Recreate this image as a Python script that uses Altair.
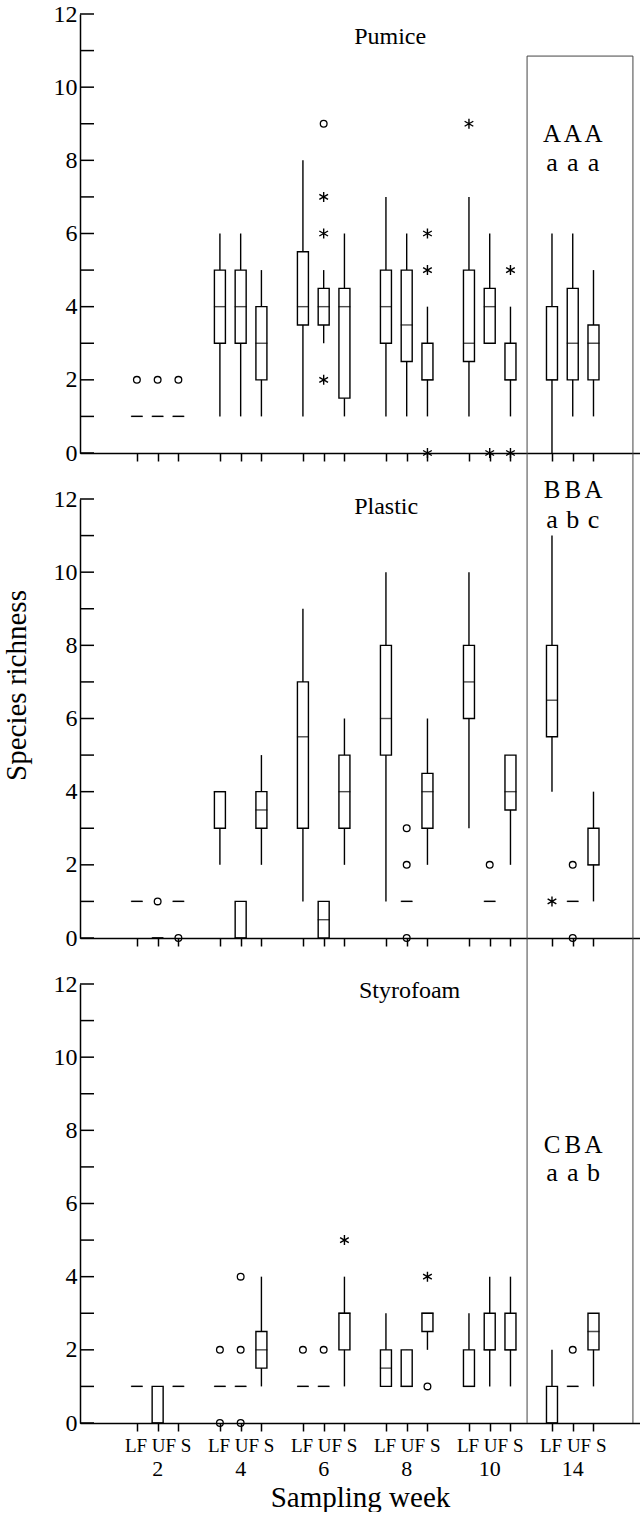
import altair as alt
import pandas as pd

# ---------------- data ----------------
weeks = [2, 4, 6, 8, 10, 14]
fractions = ["LF", "UF", "S"]
materials = ["Pumice", "Plastic", "Styrofoam"]

# [low whisker, Q1, median, Q3, high whisker]; order: LF, UF, S for each week
pumice_stats = [
    [1, 1, 1, 1, 1], [1, 1, 1, 1, 1], [1, 1, 1, 1, 1],
    [1, 3, 4, 5, 6], [1, 3, 4, 5, 6], [1, 2, 3, 4, 5],
    [1, 3.5, 4, 5.5, 8], [3, 3.5, 4, 4.5, 5], [1, 1.5, 4, 4.5, 6],
    [1, 3, 4, 5, 7], [1, 2.5, 3.5, 5, 6], [1, 2, 2, 3, 4],
    [1, 2.5, 3, 5, 7], [3, 3, 4, 4.5, 6], [1, 2, 2, 3, 4],
    [0, 2, 2, 4, 6], [1, 2, 3, 4.5, 6], [1, 2, 3, 3.5, 5],
]
plastic_stats = [
    [1, 1, 1, 1, 1], [0, 0, 0, 0, 0], [1, 1, 1, 1, 1],
    [2, 3, 4, 4, 4], [0, 0, 0, 1, 1], [2, 3, 3.5, 4, 5],
    [1, 3, 5.5, 7, 9], [0, 0, 0.5, 1, 1], [2, 3, 4, 5, 6],
    [1, 5, 6, 8, 10], [1, 1, 1, 1, 1], [2, 3, 4, 4.5, 6],
    [3, 6, 7, 8, 10], [1, 1, 1, 1, 1], [2, 3.5, 4, 5, 5],
    [4, 5.5, 6.5, 8, 11], [1, 1, 1, 1, 1], [1, 2, 2, 3, 4],
]
styrofoam_stats = [
    [1, 1, 1, 1, 1], [0, 0, 0, 1, 1], [1, 1, 1, 1, 1],
    [1, 1, 1, 1, 1], [1, 1, 1, 1, 1], [1, 1.5, 2, 2.5, 4],
    [1, 1, 1, 1, 1], [1, 1, 1, 1, 1], [1, 2, 3, 3, 4],
    [1, 1, 1.5, 2, 3], [1, 1, 1, 2, 2], [2, 2.5, 3, 3, 3],
    [1, 1, 1, 2, 3], [1, 2, 2, 3, 4], [1, 2, 2, 3, 4],
    [0, 0, 0, 1, 2], [1, 1, 1, 1, 1], [1, 2, 2.5, 3, 3],
]

# outliers: (week, fraction, value)
pumice_circles = [(2, "LF", 2), (2, "UF", 2), (2, "S", 2), (6, "UF", 9)]
pumice_stars = [(6, "UF", 7), (6, "UF", 6), (6, "UF", 2), (8, "S", 6), (8, "S", 5),
                (8, "S", 0), (10, "LF", 9), (10, "UF", 0), (10, "S", 5), (10, "S", 0)]
plastic_circles = [(2, "UF", 1), (2, "S", 0), (8, "UF", 3), (8, "UF", 2), (8, "UF", 0),
                   (10, "UF", 2), (14, "UF", 2), (14, "UF", 0)]
plastic_stars = [(14, "LF", 1)]
styrofoam_circles = [(4, "LF", 2), (4, "LF", 0), (4, "UF", 4), (4, "UF", 2), (4, "UF", 0),
                     (6, "LF", 2), (6, "UF", 2), (8, "S", 1), (14, "UF", 2)]
styrofoam_stars = [(6, "S", 5), (8, "S", 4)]

letters_upper = [["A", "A", "A"], ["B", "B", "A"], ["C", "B", "A"]]
letters_lower = [["a", "a", "a"], ["a", "b", "c"], ["a", "a", "b"]]

y_ticks = list(range(0, 13))
y_labels = list(range(0, 13, 2))

# ---------------- layout ----------------
W, H, GAP = 560, 439, 46
X_MAX = 26.5
FONT = "Liberation Serif, Times New Roman, Times, serif"
upper_y = [8.51, 12.04, 7.38]
lower_y = [7.71, 11.22, 6.62]
title_xy = [(12.97, 11.19), (12.97, 11.6), (13.2, 11.63)]
RECT_L, RECT_R, RECT_TOP = 21.3, 26.4, 10.85
STAR = "M0,-1L0,1M-0.87,-0.5L0.87,0.5M-0.87,0.5L0.87,-0.5"


def pos(week, frac):
    return 2.5 + 4 * weeks.index(week) + fractions.index(frac)


xvals = [pos(w, f) for w in weeks for f in fractions]
all_stats = [pumice_stats, plastic_stats, styrofoam_stats]
all_circles = [pumice_circles, plastic_circles, styrofoam_circles]
all_stars = [pumice_stars, plastic_stars, styrofoam_stars]

xs = alt.Scale(domain=[0, X_MAX], nice=False, zero=False)
ys = alt.Scale(domain=[0, 12], nice=False)

label_expr = ("((datum.value - 2.5) % 4) == 1 ? '" + " ".join(fractions) + "' : ''")


def make_panel(mi):
    bottom = mi == 2
    stats = all_stats[mi]
    box_df = pd.DataFrame([
        {"pos": pos(w, f), "lo": s[0], "q1": s[1], "med": s[2], "q3": s[3], "hi": s[4]}
        for (w, f), s in zip([(w, f) for w in weeks for f in fractions], stats)
    ])
    circ_df = pd.DataFrame([{"pos": pos(w, f), "v": v} for w, f, v in all_circles[mi]])
    star_df = pd.DataFrame([{"pos": pos(w, f), "v": v} for w, f, v in all_stars[mi]])
    up_df = pd.DataFrame({"pos": [pos(14, f) for f in fractions], "t": letters_upper[mi],
                          "y": [upper_y[mi]] * 3})
    lo_df = pd.DataFrame({"pos": [pos(14, f) for f in fractions], "t": letters_lower[mi],
                          "y": [lower_y[mi]] * 3})
    tdf = pd.DataFrame({"x": [title_xy[mi][0]], "y": [title_xy[mi][1]], "t": [materials[mi]]})
    tick_df = pd.DataFrame({"v": y_ticks})
    rect_df = pd.DataFrame({"x": [RECT_L, RECT_R], "top": [RECT_TOP, RECT_TOP]})

    xkw = dict(values=xvals, grid=False, ticks=True, tickSize=8, domain=True)
    if bottom:
        xkw.update(labels=True, labelExpr=label_expr, labelFontSize=19, labelPadding=5,
                   labelOverlap=False, labelFlush=False, labelBound=False,
                   labelFont=FONT, titleFont=FONT,
                   title="Sampling week", titleFontSize=29, titleY=83,
                   titleBaseline="alphabetic", titleFontWeight="normal")
    else:
        xkw.update(labels=False, title=None)
    xax = alt.Axis(**xkw)

    ykw = dict(values=y_labels, ticks=False, grid=False, labelFontSize=24, labelPadding=3,
               domain=True, labelFont=FONT)
    if mi == 1:
        ykw.update(title="Species richness", titleFontSize=29, titleX=-55, titleY=186,
                   titleAngle=270, titleBaseline="alphabetic", titleAlign="center",
                   titleFontWeight="normal", titleFont=FONT)
    else:
        ykw.update(title=None)
    yax = alt.Axis(**ykw)

    X = lambda f: alt.X(f, scale=xs, axis=xax)
    Y = lambda f: alt.Y(f, scale=ys, axis=yax)

    layers = []
    # inward y ticks
    layers.append(alt.Chart(tick_df).mark_rule(color="black", strokeWidth=1.5).encode(
        y=Y("v:Q"), x=alt.value(0), x2=alt.value(14)))
    # highlight rectangle around week 14 (continuous across panels)
    if mi == 0:
        layers.append(alt.Chart(rect_df).mark_rule(color="#444", strokeWidth=1).encode(
            x=X("x:Q"), y=Y("top:Q"), y2=alt.value(H + GAP)))
        layers.append(alt.Chart(rect_df.iloc[:1]).mark_rule(color="#444", strokeWidth=1).encode(
            x=X("x:Q"), x2=alt.datum(RECT_R), y=Y("top:Q")))
    elif mi == 1:
        layers.append(alt.Chart(rect_df).mark_rule(color="#444", strokeWidth=1).encode(
            x=X("x:Q"), y=alt.value(0), y2=alt.value(H + GAP)))
    else:
        layers.append(alt.Chart(rect_df).mark_rule(color="#444", strokeWidth=1).encode(
            x=X("x:Q"), y=alt.value(0), y2=alt.value(H)))
    # whiskers
    layers.append(alt.Chart(box_df).mark_rule(color="black", strokeWidth=1.4).encode(
        x=X("pos:Q"), y=Y("lo:Q"), y2="hi:Q"))
    # boxes
    layers.append(alt.Chart(box_df).mark_bar(size=11, fill="white", stroke="black",
                                             strokeWidth=1.4).encode(
        x=X("pos:Q"), y=Y("q1:Q"), y2="q3:Q"))
    # medians
    layers.append(alt.Chart(box_df).mark_tick(orient="horizontal", size=12, thickness=1.4,
                                              color="black").encode(
        x=X("pos:Q"), y=Y("med:Q")))
    # outliers
    if len(circ_df):
        layers.append(alt.Chart(circ_df).mark_point(shape="circle", filled=False, size=45,
                                                    color="black", strokeWidth=1.3,
                                                    opacity=1).encode(
            x=X("pos:Q"), y=Y("v:Q")))
    if len(star_df):
        layers.append(alt.Chart(star_df).mark_point(shape=STAR, filled=False, size=100,
                                                    color="black", strokeWidth=1.4,
                                                    opacity=1).encode(
            x=X("pos:Q"), y=Y("v:Q")))
    # significance letters
    layers.append(alt.Chart(up_df).mark_text(fontSize=25, baseline="alphabetic", font=FONT,
                                             color="black").encode(
        x=X("pos:Q"), y=Y("y:Q"), text="t:N"))
    layers.append(alt.Chart(lo_df).mark_text(fontSize=26, baseline="alphabetic", font=FONT,
                                             color="black").encode(
        x=X("pos:Q"), y=Y("y:Q"), text="t:N"))
    # panel title
    layers.append(alt.Chart(tdf).mark_text(fontSize=24, align="left", baseline="alphabetic",
                                           font=FONT, color="black").encode(
        x=X("x:Q"), y=Y("y:Q"), text="t:N"))
    # week numbers under the bottom axis
    if bottom:
        wdf = pd.DataFrame({"pos": [pos(w, "UF") for w in weeks], "t": [str(w) for w in weeks]})
        layers.append(alt.Chart(wdf).mark_text(fontSize=22, baseline="alphabetic", font=FONT,
                                               color="black").encode(
            x=X("pos:Q"), y=alt.value(H + 53), text="t:N"))

    return alt.layer(*layers).properties(width=W, height=H)


panels = [make_panel(i) for i in range(3)]

chart = alt.vconcat(*panels, spacing=GAP, bounds="flush").properties(
    padding={"left": 2, "top": 2, "right": 0, "bottom": 0}
).configure(font=FONT).configure_view(stroke=None).configure_axis(
    domainColor="black", domainWidth=1.5, tickColor="black", tickWidth=1.5,
    labelColor="black", titleColor="black"
)

chart.save("out.html", embed_options={"renderer": "svg", "actions": False})
